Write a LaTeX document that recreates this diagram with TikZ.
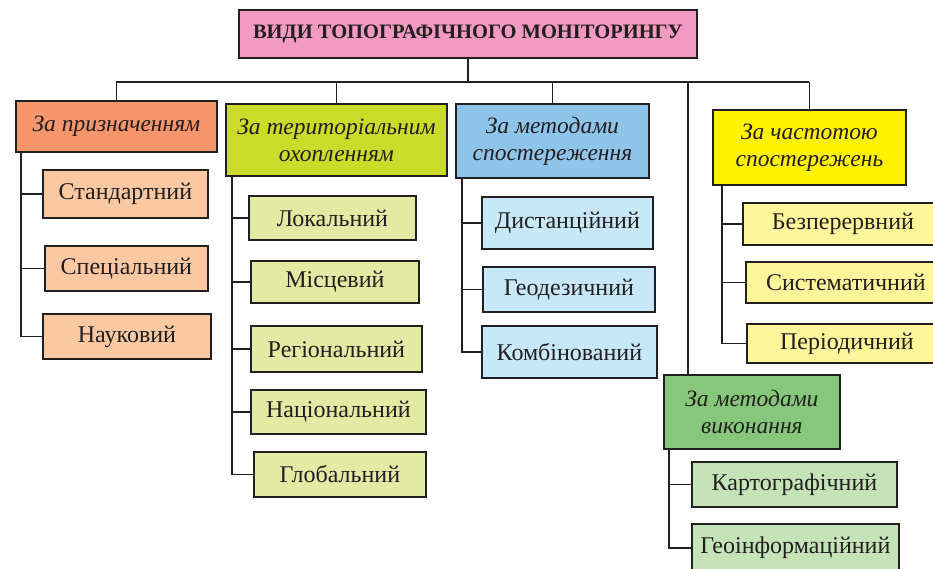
\documentclass[tikz,border=0pt]{standalone}
\usepackage{fontspec}
\setmainfont{Liberation Serif}
\definecolor{bd}{HTML}{231F20}
\definecolor{pinkc}{HTML}{F39AC2}
\definecolor{orangeA}{HTML}{F7966B}
\definecolor{orangeB}{HTML}{FBC8A1}
\definecolor{limeA}{HTML}{CBDB2A}
\definecolor{limeB}{HTML}{E3EAA4}
\definecolor{blueA}{HTML}{8FC4EA}
\definecolor{blueB}{HTML}{C7E8F8}
\definecolor{yelA}{HTML}{FFF200}
\definecolor{yelB}{HTML}{FFF59B}
\definecolor{grnA}{HTML}{86C77B}
\definecolor{grnB}{HTML}{C4E4B8}
\tikzset{
  box/.style={draw=bd, line width=1.8pt, inner sep=0pt, anchor=north west, align=center, text=bd},
  head/.style={box, font=\fontsize{23.5}{27}\selectfont\itshape},
  leaf/.style={box, font=\fontsize{24}{27}\selectfont},
  conn/.style={draw=bd, line width=1.6pt},
}
\begin{document}
\begin{tikzpicture}[x=1pt,y=-1pt]
\useasboundingbox (0,0) rectangle (933,568);
\clip (0,0) rectangle (933,568);
% title
\node[box, fill=pinkc, minimum width=458pt, minimum height=48pt, font=\fontsize{20.5}{22}\selectfont\bfseries] (t) at (238,9) {ВИДИ ТОПОГРАФІЧНОГО МОНІТОРИНГУ};
% heads
\node[head, fill=orangeA, minimum width=201pt, minimum height=51pt] (p1) at (15,100) {За призначенням};
\node[head, fill=limeA, minimum width=221pt, minimum height=72pt] (p2) at (225,103) {За територіальним\\охопленням};
\node[head, fill=blueA, minimum width=193pt, minimum height=74pt] (p3) at (455,103) {За методами\\спостереження};
\node[head, fill=yelA, minimum width=193pt, minimum height=75pt] (p4) at (712,109) {За частотою\\спостережень};
\node[head, fill=grnA, minimum width=176pt, minimum height=74pt] (p5) at (663,374) {За методами\\виконання};
% leaves 1
\node[leaf, fill=orangeB, minimum width=165pt, minimum height=48pt] (a1) at (42,169) {Стандартний};
\node[leaf, fill=orangeB, minimum width=163pt, minimum height=45pt] (a2) at (44,245) {Спеціальний};
\node[leaf, fill=orangeB, minimum width=168pt, minimum height=45pt] (a3) at (42,313) {Науковий};
% leaves 2
\node[leaf, fill=limeB, minimum width=167pt, minimum height=44pt] (b1) at (248,195) {Локальний};
\node[leaf, fill=limeB, minimum width=168pt, minimum height=42pt] (b2) at (250,260) {Місцевий};
\node[leaf, fill=limeB, minimum width=171pt, minimum height=46pt] (b3) at (250,325) {Регіональний};
\node[leaf, fill=limeB, minimum width=175pt, minimum height=44pt] (b4) at (250,389) {Національний};
\node[leaf, fill=limeB, minimum width=172pt, minimum height=45pt] (b5) at (253,451) {Глобальний};
% leaves 3
\node[leaf, fill=blueB, minimum width=171pt, minimum height=52pt] (c1) at (481,196) {Дистанційний};
\node[leaf, fill=blueB, minimum width=172pt, minimum height=45pt] (c2) at (482,266) {Геодезичний};
\node[leaf, fill=blueB, minimum width=175pt, minimum height=52pt] (c3) at (481,325) {Комбінований};
% leaves 4 (cut by the right edge)
\node[leaf, fill=yelB, minimum width=200pt, minimum height=42pt, text width=192pt] (d1) at (742,202) {Безперервний};
\node[leaf, fill=yelB, minimum width=200pt, minimum height=41pt, text width=192pt] (d2) at (745,261) {Систематичний};
\node[leaf, fill=yelB, minimum width=200pt, minimum height=39pt, text width=192pt] (d3) at (746,323) {Періодичний};
% leaves 5
\node[leaf, fill=grnB, minimum width=205pt, minimum height=45pt] (e1) at (691,461) {Картографічний};
\node[leaf, fill=grnB, minimum width=207pt, minimum height=48pt] (e2) at (691,523) {Геоінформаційний};
% connectors top
\coordinate (bar) at (0,82);
\coordinate (gtap) at (688,82);
\draw[conn] (t.south) -- (t.south |- bar);
\draw[conn] (p1.north |- bar) -- (p4.north |- bar);
\draw[conn] (p1.north |- bar) -- (p1.north);
\draw[conn] (p2.north |- bar) -- (p2.north);
\draw[conn] (p3.north |- bar) -- (p3.north);
\draw[conn] (p4.north |- bar) -- (p4.north);
\draw[conn] (gtap) -- (gtap |- p5.north);
% child connectors
\coordinate (v1) at ([xshift=6pt]p1.south west);
\coordinate (v2) at ([xshift=7pt]p2.south west);
\coordinate (v3) at ([xshift=7pt]p3.south west);
\coordinate (v4) at ([xshift=10pt]p4.south west);
\coordinate (v5) at ([xshift=6pt]p5.south west);
\foreach \c in {a1,a2,a3} \draw[conn] (v1) |- (\c.west);
\foreach \c in {b1,b2,b3,b4,b5} \draw[conn] (v2) |- (\c.west);
\foreach \c in {c1,c2,c3} \draw[conn] (v3) |- (\c.west);
\foreach \c in {d1,d2,d3} \draw[conn] (v4) |- (\c.west);
\foreach \c in {e1,e2} \draw[conn] (v5) |- (\c.west);
\end{tikzpicture}
\end{document}
